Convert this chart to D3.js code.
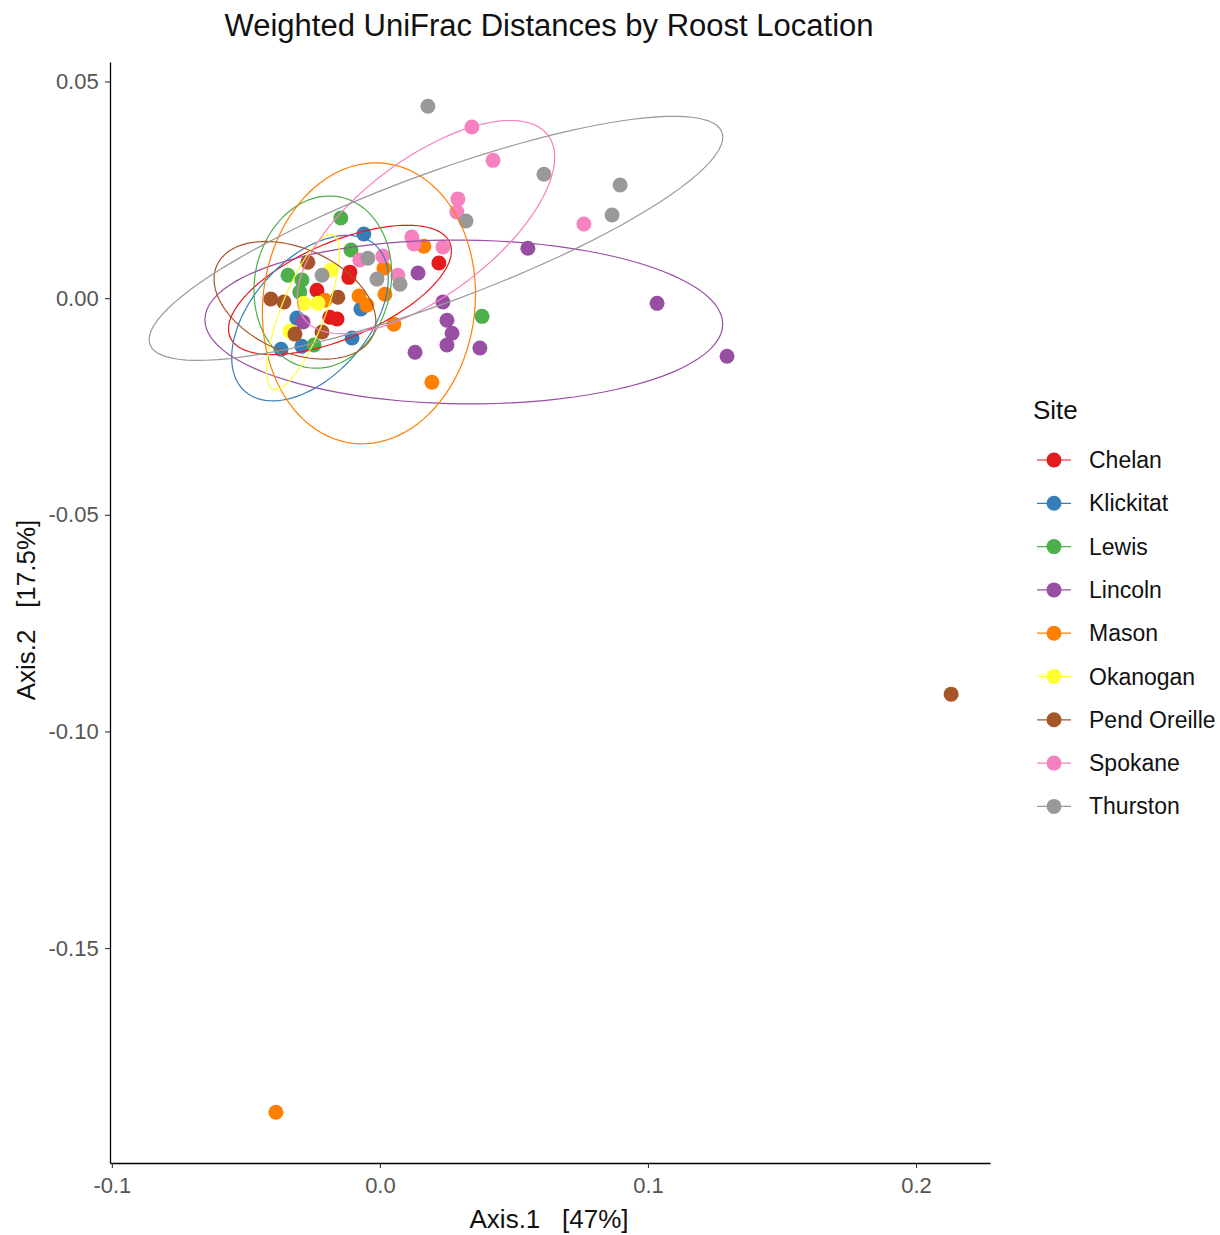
<!DOCTYPE html>
<html>
<head>
<meta charset="utf-8">
<title>Weighted UniFrac Distances by Roost Location</title>
<script src="https://cdn.jsdelivr.net/npm/d3@7"></script>
<style>
body { margin: 0; background: #fff; }
text { font-family: "Liberation Sans", Arial, sans-serif; }
</style>
</head>
<body>
<script>
// sites and colours (Set1)
var sites = ["Chelan", "Klickitat", "Lewis", "Lincoln", "Mason", "Okanogan", "Pend Oreille", "Spokane", "Thurston"];
var siteColors = ["#E41A1C", "#377EB8", "#4DAF4A", "#984EA3", "#FF7F00", "#FFFF33", "#A65628", "#F781BF", "#999999"];

// PCoA coordinates, [Axis.1, Axis.2] per sample
var chelan = [[-0.0112, 0.0060], [-0.0116, 0.0048], [-0.0235, 0.0018], [-0.0187, -0.0044], [-0.0160, -0.0048], [0.0220, 0.0081]];
var klickitat = [[-0.0060, 0.0148], [-0.0104, -0.0092], [-0.0071, -0.0025], [-0.0369, -0.0118], [-0.0310, -0.0046], [-0.0291, -0.0111]];
var lewis = [[-0.0146, 0.0185], [0.0381, -0.0042], [-0.0343, 0.0053], [-0.0291, 0.0042], [-0.0299, 0.0014], [-0.0108, 0.0111], [-0.0246, -0.0108]];
var lincoln = [[0.0552, 0.0115], [0.1034, -0.0012], [0.1295, -0.0134], [0.0235, -0.0009], [0.0250, -0.0051], [0.0269, -0.0081], [0.0250, -0.0108], [0.0131, -0.0125], [0.0373, -0.0115], [0.0142, 0.0058], [-0.0287, -0.0055]];
var mason = [[-0.0388, -0.1879], [0.0194, -0.0194], [0.0052, -0.0060], [0.0164, 0.0120], [0.0015, 0.0069], [-0.0078, 0.0005], [-0.0049, -0.0016], [0.0019, 0.0009], [-0.0205, -0.0005]];
var okanogan = [[-0.0183, 0.0065], [-0.0284, -0.0012], [-0.0336, -0.0076], [-0.0231, -0.0012]];
var pendOreille = [[0.2131, -0.0914], [-0.0269, 0.0083], [-0.0407, -0.0002], [-0.0358, -0.0009], [-0.0317, -0.0083], [-0.0216, -0.0078], [-0.0157, 0.0002]];
var spokane = [[0.0343, 0.0395], [0.0422, 0.0318], [0.0291, 0.0229], [0.0287, 0.0199], [0.0761, 0.0171], [0.0119, 0.0141], [0.0127, 0.0125], [0.0235, 0.0118], [-0.0075, 0.0088], [0.0011, 0.0097], [0.0067, 0.0053]];
var thurston = [[0.0179, 0.0443], [0.0612, 0.0286], [0.0896, 0.0261], [0.0866, 0.0192], [0.0321, 0.0178], [-0.0045, 0.0092], [-0.0011, 0.0044], [0.0075, 0.0032], [-0.0216, 0.0053]];
var sitePoints = [chelan, klickitat, lewis, lincoln, mason, okanogan, pendOreille, spokane, thurston];

// 95% ellipses: centre, first semi-axis, second semi-axis (data units)
var ellCentres = [[-0.0149, 0.0019], [-0.0261, -0.0046], [-0.0213, 0.0037], [0.0313, -0.0055], [-0.0041, -0.0012], [-0.0287, -0.0032], [-0.0317, -0.0005], [0.0172, 0.0164], [0.0209, 0.0138]];
var ellAxisA = [[0.0410, 0.0109], [0.0243, 0.0169], [0.0067, 0.0196], [0.0966, -0.0005], [0.0060, 0.0323], [0.0112, 0.0178], [0.0291, -0.0081], [0.0455, 0.0212], [0.1067, 0.0245]];
var ellAxisB = [[0.0070, -0.0102], [0.0162, -0.0089], [0.0248, -0.0033], [0.0, -0.0189], [0.0393, -0.0028], [0.0077, -0.0019], [-0.0080, -0.0109], [0.0153, -0.0125], [0.0083, -0.0139]];

var xTicks = [-0.1, 0.0, 0.1, 0.2];
var yTicks = [0.05, 0.00, -0.05, -0.10, -0.15];

var width = 1220, height = 1235;
var plotLeft = 110, plotRight = 990, plotTop = 62, plotBottom = 1163;

var svg = d3.select("body").append("svg")
  .attr("width", width)
  .attr("height", height);

var x = d3.scaleLinear().domain([-0.1007, 0.2276]).range([plotLeft, plotRight]);
var y = d3.scaleLinear().domain([-0.1996, 0.0545]).range([plotBottom, plotTop]);

// ggplot style labels with a plain hyphen
function fmt(p) {
  var f = d3.format("." + p + "f");
  return function(d) { return f(d).replace("\u2212", "-"); };
}

// title
svg.append("text")
  .attr("x", 549).attr("y", 36)
  .attr("text-anchor", "middle")
  .attr("font-size", 31)
  .attr("fill", "#111")
  .text("Weighted UniFrac Distances by Roost Location");

// points
var plot = svg.append("g");
sitePoints.forEach(function(pts, i) {
  plot.selectAll(null)
    .data(pts)
    .enter().append("circle")
    .attr("cx", function(d) { return x(d[0]); })
    .attr("cy", function(d) { return y(d[1]); })
    .attr("r", 7.5)
    .attr("fill", siteColors[i]);
});

// ellipses on top of points
var line = d3.line()
  .x(function(d) { return x(d[0]); })
  .y(function(d) { return y(d[1]); })
  .curve(d3.curveLinearClosed);

sites.forEach(function(s, i) {
  var c = ellCentres[i], a = ellAxisA[i], b = ellAxisB[i];
  var ring = d3.range(0, 100).map(function(k) {
    var t = k / 100 * 2 * Math.PI;
    return [c[0] + Math.cos(t) * a[0] + Math.sin(t) * b[0],
            c[1] + Math.cos(t) * a[1] + Math.sin(t) * b[1]];
  });
  plot.append("path")
    .attr("d", line(ring))
    .attr("fill", "none")
    .attr("stroke", siteColors[i])
    .attr("stroke-width", 1.2);
});

// axes
var xAxis = svg.append("g")
  .attr("transform", "translate(0," + plotBottom + ")")
  .call(d3.axisBottom(x).tickValues(xTicks).tickSize(5).tickSizeOuter(0)
    .tickFormat(fmt(1)));
var yAxis = svg.append("g")
  .attr("transform", "translate(" + plotLeft + ",0)")
  .call(d3.axisLeft(y).tickValues(yTicks).tickSize(5).tickSizeOuter(0)
    .tickFormat(fmt(2)));

[xAxis, yAxis].forEach(function(g) {
  g.select(".domain").attr("stroke", "#000").attr("stroke-width", 1.3);
  g.selectAll(".tick line").attr("stroke", "#333").attr("stroke-width", 1.1);
  g.selectAll(".tick text")
    .attr("fill", "#555")
    .attr("font-size", 22)
    .attr("font-family", "Liberation Sans, Arial, sans-serif");
});
xAxis.selectAll(".tick text").attr("dy", "1.0em");
yAxis.selectAll(".tick text").attr("dx", "-0.15em");

// axis titles
svg.append("text")
  .attr("x", 549).attr("y", 1228)
  .attr("text-anchor", "middle")
  .attr("font-size", 26)
  .attr("fill", "#111")
  .attr("xml:space", "preserve")
  .text("Axis.1   [47%]");

svg.append("text")
  .attr("transform", "translate(35,610) rotate(-90)")
  .attr("text-anchor", "middle")
  .attr("font-size", 26)
  .attr("fill", "#111")
  .attr("xml:space", "preserve")
  .text("Axis.2   [17.5%]");

// legend
var legend = svg.append("g").attr("transform", "translate(1033,0)");
legend.append("text")
  .attr("x", 0).attr("y", 419)
  .attr("font-size", 26)
  .attr("fill", "#111")
  .text("Site");

var items = legend.selectAll("g.item")
  .data(sites)
  .enter().append("g")
  .attr("class", "item")
  .attr("transform", function(d, i) { return "translate(0," + (460 + i * 43.3) + ")"; });

items.append("line")
  .attr("x1", 4).attr("x2", 38)
  .attr("stroke", function(d, i) { return siteColors[i]; })
  .attr("stroke-width", 1.2);
items.append("circle")
  .attr("cx", 21).attr("r", 7.5)
  .attr("fill", function(d, i) { return siteColors[i]; });
items.append("text")
  .attr("x", 56).attr("y", 8)
  .attr("font-size", 23)
  .attr("fill", "#111")
  .text(function(d) { return d; });
</script>
</body>
</html>
